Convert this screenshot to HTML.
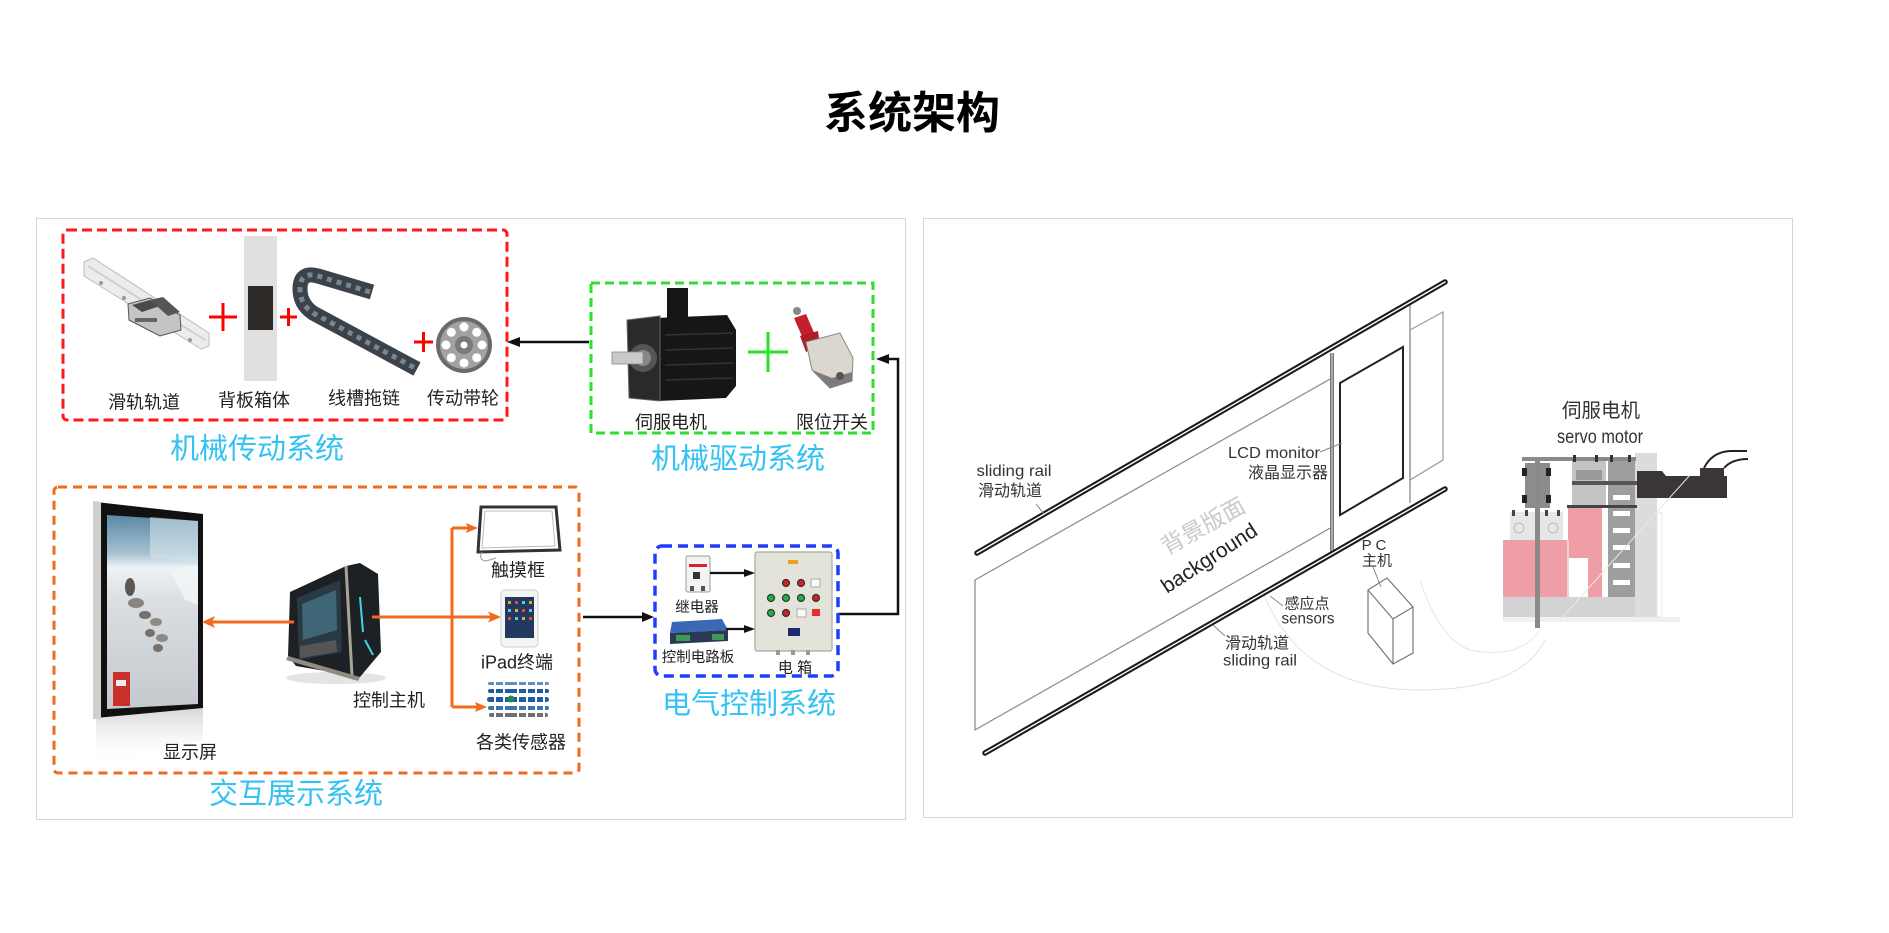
<!DOCTYPE html>
<html><head><meta charset="utf-8"><style>
html,body{margin:0;padding:0;background:#fff;}
body{width:1889px;height:933px;overflow:hidden;}
svg{display:block;}
text{font-family:"Liberation Sans","Noto Sans CJK SC",sans-serif;}
</style></head><body>
<svg width="1889" height="933" viewBox="0 0 1889 933" xmlns="http://www.w3.org/2000/svg">
<defs>
<linearGradient id="snow" x1="0" y1="0" x2="0" y2="1">
<stop offset="0" stop-color="#5a87a4"/><stop offset="0.2" stop-color="#a8c2d2"/><stop offset="0.27" stop-color="#eef2f5"/><stop offset="0.45" stop-color="#d9dee3"/><stop offset="1" stop-color="#c4c9ce"/>
</linearGradient>
<linearGradient id="refl" x1="0" y1="0" x2="0" y2="1">
<stop offset="0" stop-color="#bbb" stop-opacity="0.6"/><stop offset="1" stop-color="#fff" stop-opacity="0"/>
</linearGradient>
</defs>

<!-- Title -->
<text x="912" y="128" font-size="44" font-weight="bold" text-anchor="middle" fill="#000">系统架构</text>

<!-- Panels -->
<rect x="36.5" y="218.5" width="869" height="601" fill="#fff" stroke="#d6d6d6" stroke-width="1"/>
<rect x="923.5" y="218.5" width="869" height="599" fill="#fff" stroke="#d6d6d6" stroke-width="1"/>

<!-- ============ LEFT PANEL ============ -->
<!-- Red dashed box -->
<rect x="63" y="230" width="444" height="190" rx="4" fill="none" stroke="#ff1a1a" stroke-width="3" stroke-dasharray="10 5"/>
<!-- slide rail -->
<polygon points="84,262 93,258 209,333 209,346 201,349 84,276" fill="#ececec" stroke="#bdbdbd" stroke-width="1"/>
<line x1="88" y1="266" x2="205" y2="340" stroke="#d0d0d0" stroke-width="2"/>
<circle cx="101" cy="283" r="2" fill="#999"/><circle cx="124" cy="298" r="2" fill="#999"/><circle cx="190" cy="340" r="2" fill="#999"/>
<polygon points="128,304 150,298 180,315 181,330 160,336 129,320" fill="#c4c4c4" stroke="#555" stroke-width="1"/>
<polygon points="132,305 150,300 160,306 142,312" fill="#4a4a4a"/>
<polygon points="150,300 163,297 180,312 168,316" fill="#555"/>
<rect x="135" y="318" width="22" height="4" fill="#666"/>
<!-- plus 1 -->
<line x1="209" y1="317" x2="237" y2="317" stroke="#ff0000" stroke-width="3"/>
<line x1="223" y1="303" x2="223" y2="331" stroke="#ff0000" stroke-width="3"/>
<!-- backboard -->
<rect x="244" y="236" width="33" height="145" fill="#e0e0e0"/>
<rect x="248" y="286" width="25" height="44" fill="#2e2a28"/>
<!-- plus 2 -->
<line x1="280" y1="317" x2="297" y2="317" stroke="#ff0000" stroke-width="3"/>
<line x1="288.5" y1="308" x2="288.5" y2="326" stroke="#ff0000" stroke-width="3"/>
<!-- cable chain -->
<path d="M 372 292 L 318 276 Q 300 271 300 289 Q 300 304 313 313 L 417 369" fill="none" stroke="#3b424a" stroke-width="15" stroke-linejoin="round"/>
<path d="M 370 292 L 318 276 Q 300 271 300 289 Q 300 304 313 313 L 415 368" fill="none" stroke="#7c8690" stroke-width="5" stroke-dasharray="5 5"/>
<!-- plus 3 -->
<line x1="414" y1="342" x2="433" y2="342" stroke="#ff0000" stroke-width="3"/>
<line x1="423.5" y1="332" x2="423.5" y2="352" stroke="#ff0000" stroke-width="3"/>
<!-- wheel -->
<circle cx="464" cy="345" r="28" fill="#6a6a6a"/>
<circle cx="464" cy="345" r="24" fill="#a2a2a2"/>
<g fill="#fff">
<circle cx="482" cy="345" r="4.5"/><circle cx="446" cy="345" r="4.5"/><circle cx="464" cy="327" r="4.5"/><circle cx="464" cy="363" r="4.5"/>
<circle cx="476.7" cy="332.3" r="4.5"/><circle cx="451.3" cy="332.3" r="4.5"/><circle cx="476.7" cy="357.7" r="4.5"/><circle cx="451.3" cy="357.7" r="4.5"/>
</g>
<circle cx="464" cy="345" r="9" fill="#7a7a7a"/><circle cx="464" cy="345" r="3.5" fill="#fff"/>
<!-- labels -->
<g font-size="18" fill="#222" text-anchor="middle">
<text x="144" y="408.5">滑轨轨道</text>
<text x="254" y="406.5">背板箱体</text>
<text x="364" y="404.5">线槽拖链</text>
<text x="463" y="404.5">传动带轮</text>
</g>
<text x="257" y="458.5" font-size="29" fill="#33c2f2" text-anchor="middle">机械传动系统</text>

<!-- Green dashed box -->
<rect x="591" y="283" width="282" height="150" fill="none" stroke="#2fe02f" stroke-width="3" stroke-dasharray="9 5"/>
<!-- servo motor -->
<rect x="667" y="288" width="21" height="31" fill="#151515"/>
<polygon points="655,318 727,315 736,330 736,386 726,398 658,401" fill="#161616"/>
<g stroke="#333" stroke-width="1.5">
<line x1="665" y1="335" x2="733" y2="333"/><line x1="665" y1="350" x2="733" y2="348"/><line x1="665" y1="365" x2="733" y2="363"/><line x1="665" y1="380" x2="733" y2="378"/>
</g>
<polygon points="627,320 660,316 660,401 629,398" fill="#2a2a2a" stroke="#666" stroke-width="1"/>
<circle cx="643" cy="358" r="14" fill="#555"/><circle cx="643" cy="358" r="8" fill="#888"/>
<rect x="612" y="352" width="31" height="12" fill="#c9c9c9" stroke="#888" stroke-width="0.8"/>
<!-- green plus -->
<line x1="748" y1="352" x2="788" y2="352" stroke="#28e028" stroke-width="3"/>
<line x1="768" y1="332" x2="768" y2="372" stroke="#28e028" stroke-width="3"/>
<!-- limit switch -->
<circle cx="797" cy="311" r="4" fill="#888"/>
<polygon points="794,318 806,314 818,342 808,350" fill="#c4202b"/>
<polygon points="800,336 818,331 820,345 806,352" fill="#b01c26"/>
<polygon points="806,342 840,333 853,358 852,381 830,388 812,370" fill="#dcd7ce" stroke="#8a8a8a" stroke-width="1"/>
<polygon points="812,370 830,388 852,381 852,372 832,378" fill="#7c7c7c"/>
<circle cx="840" cy="376" r="4" fill="#555"/>
<text x="671" y="428.5" font-size="18" fill="#222" text-anchor="middle">伺服电机</text>
<text x="832" y="428.5" font-size="18" fill="#222" text-anchor="middle">限位开关</text>
<text x="738" y="468.5" font-size="29" fill="#33c2f2" text-anchor="middle">机械驱动系统</text>

<!-- arrow green->red -->
<line x1="518" y1="342" x2="589" y2="342" stroke="#111" stroke-width="2.5"/>
<polygon points="507,342 520,337 520,347" fill="#111"/>
<!-- arrow blue->green -->
<polyline points="838,614 898,614 898,359 887,359" fill="none" stroke="#111" stroke-width="2.5"/>
<polygon points="876,359 889,354 889,364" fill="#111"/>

<!-- Blue dashed box -->
<rect x="655" y="546" width="183" height="130" rx="7" fill="none" stroke="#1f3dff" stroke-width="3.5" stroke-dasharray="10 6"/>
<!-- relay breaker -->
<rect x="686" y="556" width="24" height="36" rx="2" fill="#f3f3f3" stroke="#9a9a9a" stroke-width="1"/>
<rect x="689" y="564" width="18" height="3" fill="#d9262b"/>
<rect x="693" y="572" width="7" height="7" fill="#333"/>
<rect x="690" y="586" width="4" height="5" fill="#555"/><rect x="701" y="586" width="4" height="5" fill="#555"/>
<!-- control board -->
<polygon points="672,622 722,619 728,630 670,633" fill="#3b68b4"/>
<polygon points="670,633 728,630 728,641 670,644" fill="#2b3a52"/>
<rect x="676" y="635" width="14" height="6" fill="#3d9a58"/><rect x="712" y="634" width="12" height="6" fill="#3d9a58"/>
<!-- electric box -->
<rect x="755" y="552" width="77" height="99" rx="2" fill="#e3e3d9" stroke="#a8a8a0" stroke-width="1.2"/>
<rect x="788" y="560" width="10" height="4" fill="#f0a020"/>
<g>
<circle cx="786" cy="583" r="3.5" fill="#d42020" stroke="#333" stroke-width="1.2"/>
<circle cx="801" cy="583" r="3.5" fill="#d42020" stroke="#333" stroke-width="1.2"/>
<rect x="811" y="579" width="9" height="8" fill="#fafafa" stroke="#999" stroke-width="0.8"/>
<circle cx="771" cy="598" r="3.5" fill="#22b040" stroke="#333" stroke-width="1.2"/>
<circle cx="786" cy="598" r="3.5" fill="#22b040" stroke="#333" stroke-width="1.2"/>
<circle cx="801" cy="598" r="3.5" fill="#22b040" stroke="#333" stroke-width="1.2"/>
<circle cx="816" cy="598" r="3.5" fill="#d42020" stroke="#333" stroke-width="1.2"/>
<circle cx="771" cy="613" r="3.5" fill="#22b040" stroke="#333" stroke-width="1.2"/>
<circle cx="786" cy="613" r="3.5" fill="#d42020" stroke="#333" stroke-width="1.2"/>
<rect x="797" y="609" width="9" height="8" fill="#fafafa" stroke="#999" stroke-width="0.8"/>
<rect x="812" y="609" width="8" height="7" fill="#e03030"/>
</g>
<rect x="788" y="628" width="12" height="8" fill="#1b2a6e"/>
<rect x="776" y="650" width="4" height="5" fill="#999"/><rect x="791" y="650" width="4" height="5" fill="#999"/><rect x="806" y="650" width="4" height="5" fill="#999"/>
<!-- inner arrows -->
<line x1="710" y1="573" x2="745" y2="573" stroke="#111" stroke-width="2.2"/>
<polygon points="755,573 744,569 744,577" fill="#111"/>
<line x1="726" y1="629" x2="745" y2="629" stroke="#111" stroke-width="2.2"/>
<polygon points="755,629 744,625 744,633" fill="#111"/>
<text x="697" y="612" font-size="14.5" fill="#222" text-anchor="middle">继电器</text>
<text x="698" y="662" font-size="14.5" fill="#222" text-anchor="middle">控制电路板</text>
<text x="795" y="672.5" font-size="15" fill="#222" text-anchor="middle">电 箱</text>
<text x="749" y="713.5" font-size="29" fill="#33c2f2" text-anchor="middle">电气控制系统</text>
<!-- arrow orange->blue -->
<line x1="583" y1="617" x2="643" y2="617" stroke="#111" stroke-width="2.5"/>
<polygon points="654,617 642,612 642,622" fill="#111"/>

<!-- Orange dashed box -->
<rect x="54" y="487" width="525" height="286" rx="4" fill="none" stroke="#f26a1b" stroke-width="3" stroke-dasharray="9 6"/>
<!-- display -->
<polygon points="96,718 203,708 203,740 96,765" fill="url(#refl)"/>
<polygon points="96,502 203,514 203,708 96,718" fill="#111"/>
<polygon points="93,501 101,502 101,719 93,719" fill="#cfcfcf"/>
<polygon points="107,515 198,521 198,704 107,709" fill="url(#snow)"/>
<polygon points="150,517 198,521 198,562 150,558" fill="#dbe7ee" opacity="0.55"/>
<polygon points="170,570 198,566 198,605 185,600" fill="#f2f5f7" opacity="0.8"/>
<g fill="#5e5650">
<ellipse cx="130" cy="587" rx="5" ry="9"/>
<ellipse cx="136" cy="603" rx="8" ry="5" fill="#8a8480"/>
<ellipse cx="145" cy="615" rx="6" ry="4" fill="#77716c"/>
<ellipse cx="156" cy="622" rx="6" ry="4" fill="#8f8a86"/>
<ellipse cx="150" cy="633" rx="5" ry="4" fill="#77716c"/>
<ellipse cx="162" cy="638" rx="6" ry="4" fill="#8f8a86"/>
<ellipse cx="158" cy="648" rx="5" ry="4" fill="#77716c"/>
</g>
<rect x="113" y="672" width="17" height="34" fill="#c8302a"/>
<rect x="116" y="680" width="10" height="6" fill="#eee"/>
<!-- PC -->
<ellipse cx="336" cy="678" rx="50" ry="6" fill="#e4e4e4"/>
<polygon points="290,592 346,566 360,563 378,574 381,652 360,677 296,666 288,656" fill="#1d2125"/>
<polygon points="297,598 340,580 342,652 299,660" fill="#2a3a44"/>
<polygon points="302,604 336,590 337,630 303,640" fill="#3f6676"/>
<polygon points="300,646 336,640 337,652 300,658" fill="#555"/>
<line x1="346" y1="566" x2="352" y2="676" stroke="#a9a596" stroke-width="3"/>
<line x1="360" y1="597" x2="363" y2="632" stroke="#3ed6e2" stroke-width="2"/>
<line x1="365" y1="640" x2="373" y2="655" stroke="#3ed6e2" stroke-width="2"/>
<polygon points="288,656 360,677 358,681 286,660" fill="#8f8b80"/>
<!-- touch frame -->
<polygon points="481,507 556,507 560,550 478,552" fill="#fff" stroke="#333" stroke-width="3"/>
<polygon points="485,511 552,511 555,546 482,548" fill="none" stroke="#bbb" stroke-width="1"/>
<path d="M 482 552 Q 478 560 486 561 L 496 558" fill="none" stroke="#999" stroke-width="1"/>
<!-- iPad -->
<rect x="501" y="590" width="37" height="57" rx="4" fill="#f4f4f4" stroke="#ccc" stroke-width="1"/>
<rect x="505" y="597" width="29" height="41" fill="#22395f"/>
<g fill="#e9a13a">
<rect x="508" y="601" width="3" height="3"/><rect x="515" y="601" width="3" height="3" fill="#e04a3a"/><rect x="522" y="601" width="3" height="3" fill="#6ac0e0"/><rect x="529" y="601" width="3" height="3"/>
<rect x="508" y="609" width="3" height="3" fill="#6ac0e0"/><rect x="515" y="609" width="3" height="3"/><rect x="522" y="609" width="3" height="3" fill="#e04a3a"/><rect x="529" y="609" width="3" height="3" fill="#6ac0e0"/>
<rect x="508" y="617" width="3" height="3" fill="#e04a3a"/><rect x="515" y="617" width="3" height="3" fill="#6ac0e0"/><rect x="522" y="617" width="3" height="3"/><rect x="529" y="617" width="3" height="3" fill="#e04a3a"/>
</g>
<!-- sensors -->
<g fill="#1f5d9c">
<rect x="488" y="682" width="61" height="3" rx="1.5" opacity="0.7"/>
<rect x="488" y="689" width="61" height="4" rx="2"/>
<rect x="487" y="697" width="62" height="5" rx="2.5"/>
<rect x="488" y="706" width="61" height="4" rx="2" opacity="0.85"/>
<rect x="489" y="713" width="59" height="4" rx="2" fill="#333" opacity="0.7"/>
<circle cx="511" cy="699" r="3.5" fill="#1d8a50"/>
</g>
<g fill="#fff">
<rect x="494" y="682" width="2" height="36"/><rect x="503" y="682" width="2" height="36"/><rect x="517" y="682" width="2" height="36"/><rect x="526" y="682" width="2" height="36"/><rect x="535" y="682" width="2" height="36"/><rect x="543" y="682" width="2" height="36"/>
</g>
<!-- orange connectors -->
<g stroke="#f26a1b" stroke-width="3" fill="none">
<line x1="212" y1="622" x2="294" y2="622"/>
<line x1="372" y1="617" x2="491" y2="617"/>
<line x1="452" y1="528" x2="452" y2="707"/>
<line x1="452" y1="528" x2="468" y2="528"/>
<line x1="452" y1="707" x2="477" y2="707"/>
</g>
<g fill="#f26a1b">
<polygon points="202,622 215,616 212,622 215,628"/>
<polygon points="501,617 488,611.5 491,617 488,622.5"/>
<polygon points="478,528 466,523 468,528 466,533"/>
<polygon points="487,707 475,702 477,707 475,712"/>
</g>
<g font-size="18" fill="#222" text-anchor="middle">
<text x="190" y="758.5">显示屏</text>
<text x="389" y="706.5">控制主机</text>
<text x="518" y="576.5">触摸框</text>
<text x="517" y="668.5">iPad终端</text>
<text x="521" y="748.5">各类传感器</text>
</g>
<text x="296" y="803.5" font-size="29" fill="#33c2f2" text-anchor="middle">交互展示系统</text>

<!-- ============ RIGHT PANEL ============ -->
<!-- faint arcs -->
<path d="M 1262 590 Q 1300 690 1420 690 Q 1520 690 1545 640" fill="none" stroke="#e2e2e2" stroke-width="1"/>
<path d="M 1420 580 Q 1440 640 1470 650 Q 1520 660 1540 630" fill="none" stroke="#e6e6e6" stroke-width="1"/>
<!-- background panel -->
<polygon points="975,580 1332,378 1332,527 975,730" fill="none" stroke="#8a8a8a" stroke-width="1.2"/>
<!-- right frame -->
<line x1="1410" y1="303" x2="1410" y2="503" stroke="#9a9a9a" stroke-width="1.5"/>
<polygon points="1410,330 1443,312 1443,460 1410,480" fill="none" stroke="#9a9a9a" stroke-width="1.2"/>
<!-- vertical divider -->
<line x1="1332" y1="353" x2="1332" y2="552" stroke="#777" stroke-width="4"/>
<line x1="1332" y1="353" x2="1332" y2="552" stroke="#ddd" stroke-width="1"/>
<!-- LCD -->
<polygon points="1340,383 1403,347 1403,478 1340,515" fill="none" stroke="#222" stroke-width="2"/>
<!-- rails -->
<line x1="977" y1="553" x2="1445" y2="282" stroke="#1a1a1a" stroke-width="5.5" stroke-linecap="round"/>
<line x1="977" y1="553" x2="1445" y2="282" stroke="#fff" stroke-width="1.4" stroke-linecap="round"/>
<line x1="985" y1="753" x2="1445" y2="489" stroke="#1a1a1a" stroke-width="5.5" stroke-linecap="round"/>
<line x1="985" y1="753" x2="1445" y2="489" stroke="#fff" stroke-width="1.4" stroke-linecap="round"/>
<!-- PC box -->
<polygon points="1368,590 1387,578 1413,607 1413,653 1393,664 1368,633" fill="#fff" stroke="#777" stroke-width="1.2"/>
<polyline points="1368,590 1393,619 1413,607" fill="none" stroke="#777" stroke-width="1.2"/>
<line x1="1393" y1="619" x2="1393" y2="664" stroke="#777" stroke-width="1.2"/>
<!-- leaders -->
<g stroke="#888" stroke-width="1">
<line x1="1036" y1="504" x2="1044" y2="514"/>
<line x1="1320" y1="452" x2="1342" y2="443"/>
<line x1="1373" y1="567" x2="1381" y2="587"/>
<line x1="1270" y1="596" x2="1283" y2="606"/>
<line x1="1213" y1="625" x2="1225" y2="636"/>
</g>
<!-- rotated labels -->
<text transform="translate(1207,533) rotate(-29)" font-size="23" fill="#c9c9c9" text-anchor="middle">背景版面</text>
<text transform="translate(1213,564) rotate(-33)" font-size="21" fill="#222" text-anchor="middle">background</text>
<!-- right labels -->
<g fill="#333" text-anchor="middle">
<text x="1014" y="476" font-size="16" textLength="75" lengthAdjust="spacingAndGlyphs">sliding rail</text>
<text x="1010" y="496" font-size="16">滑动轨道</text>
<text x="1274" y="458" font-size="16" textLength="92" lengthAdjust="spacingAndGlyphs">LCD monitor</text>
<text x="1288" y="478" font-size="16">液晶显示器</text>
<text x="1374" y="550" font-size="15">P C</text>
<text x="1377" y="565.5" font-size="15">主机</text>
<text x="1307" y="608.5" font-size="15">感应点</text>
<text x="1308" y="623.5" font-size="16" textLength="53" lengthAdjust="spacingAndGlyphs">sensors</text>
<text x="1257" y="648.5" font-size="16">滑动轨道</text>
<text x="1260" y="665.5" font-size="16" textLength="74" lengthAdjust="spacingAndGlyphs">sliding rail</text>
<text x="1601" y="417" font-size="19.5">伺服电机</text>
<text x="1600" y="443" font-size="19" textLength="86" lengthAdjust="spacingAndGlyphs">servo motor</text>
</g>
<!-- servo machine -->
<rect x="1503" y="617" width="177" height="5" fill="#f0f0f0"/>
<rect x="1503" y="597" width="134" height="20" fill="#d3d3d3"/>
<rect x="1635" y="453" width="22" height="164" fill="#dcdcdc"/>
<rect x="1657" y="513" width="5" height="104" fill="none" stroke="#e4e4e4" stroke-width="1"/>
<rect x="1503" y="540" width="65" height="57" fill="#f09ea6"/>
<rect x="1568" y="508" width="34" height="89" fill="#f09ea6"/>
<line x1="1568" y1="540" x2="1568" y2="597" stroke="#e8e8e8" stroke-width="1.5"/>
<line x1="1568" y1="540" x2="1602" y2="540" stroke="#e8a0a6" stroke-width="1"/>
<rect x="1569" y="558" width="19" height="39" fill="#fff"/>
<rect x="1510" y="512" width="53" height="28" fill="#e6e6e6"/>
<circle cx="1519" cy="528" r="5" fill="none" stroke="#bbb" stroke-width="1"/>
<circle cx="1553" cy="528" r="5" fill="none" stroke="#bbb" stroke-width="1"/>
<g fill="#444">
<rect x="1512" y="510" width="3" height="6"/><rect x="1525" y="510" width="3" height="6"/><rect x="1545" y="510" width="3" height="6"/><rect x="1557" y="510" width="3" height="6"/>
</g>
<rect x="1608" y="457" width="27" height="140" fill="#9e9e9e"/>
<g fill="#fff">
<rect x="1613" y="495" width="17" height="5"/><rect x="1613" y="511" width="17" height="5"/><rect x="1613" y="528" width="17" height="5"/><rect x="1613" y="545" width="17" height="5"/><rect x="1613" y="563" width="17" height="5"/><rect x="1613" y="580" width="17" height="5"/>
</g>
<rect x="1572" y="458" width="34" height="48" fill="#c4c4c4"/>
<rect x="1576" y="470" width="26" height="10" fill="#999"/>
<rect x="1572" y="481" width="70" height="4" fill="#555"/>
<rect x="1567" y="505" width="70" height="3" fill="#444"/>
<rect x="1525" y="463" width="25" height="45" fill="#8c8c8c"/>
<rect x="1522" y="468" width="5" height="8" fill="#222"/><rect x="1546" y="468" width="5" height="8" fill="#222"/>
<rect x="1522" y="495" width="5" height="8" fill="#222"/><rect x="1546" y="495" width="5" height="8" fill="#222"/>
<rect x="1522" y="457" width="114" height="4" fill="#8a8a8a"/>
<g fill="#333">
<rect x="1573" y="455" width="3" height="7"/><rect x="1595" y="455" width="3" height="7"/><rect x="1610" y="455" width="3" height="7"/><rect x="1628" y="455" width="3" height="7"/>
</g>
<rect x="1535" y="457" width="5" height="171" fill="#8a8a8a"/>
<polygon points="1637,471 1662,471 1666,476 1727,476 1727,498 1637,498" fill="#3a3636"/>
<rect x="1700" y="468" width="24" height="8" fill="#3a3636"/>
<path d="M 1704 468 Q 1712 452 1730 451 L 1747 451" fill="none" stroke="#222" stroke-width="2"/>
<path d="M 1724 468 Q 1732 459 1748 459" fill="none" stroke="#222" stroke-width="2"/>
<line x1="1560" y1="620" x2="1690" y2="475" stroke="#e8e8e8" stroke-width="1"/>
</svg>
</body></html>
